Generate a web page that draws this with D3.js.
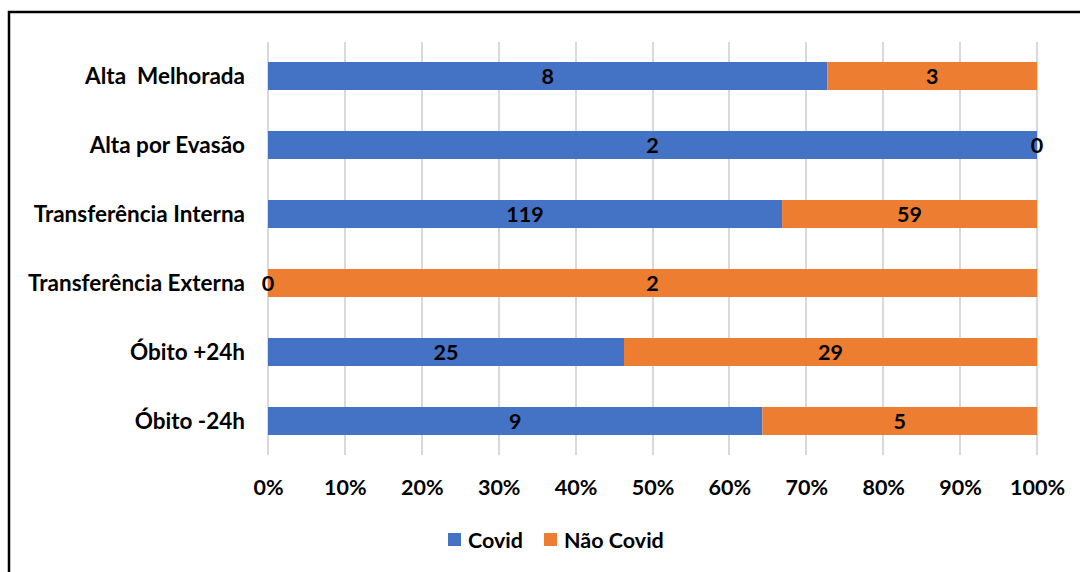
<!DOCTYPE html>
<meta charset="utf-8">
<style>

body {
  margin: 0;
  background: #fff;
}

svg text {
  font-family: Lato, "Noto Sans", sans-serif;
  font-weight: bold;
  fill: #000;
  white-space: pre;
}

.grid line {
  stroke: #d9d9d9;
  stroke-width: 2;
  shape-rendering: crispEdges;
}

</style>
<body>
<script src="https://d3js.org/d3.v7.min.js"></script>
<script>

var categories = ["Alta  Melhorada", "Alta por Evasão", "Transferência Interna",
                  "Transferência Externa", "Óbito +24h", "Óbito -24h"];
var covid    = [8, 2, 119, 0, 25, 9];
var naoCovid = [3, 0, 59, 2, 29, 5];
var seriesNames = ["Covid", "Não Covid"];
var tickValues = [0, 0.1, 0.2, 0.3, 0.4, 0.5, 0.6, 0.7, 0.8, 0.9, 1];

var colors = ["#4472C4", "#ED7D31"];

var width = 1080, height = 572;

var svg = d3.select("body").append("svg")
    .attr("width", width)
    .attr("height", height);

// frame round the chart (right and bottom edges fall off the picture)
svg.append("rect")
    .attr("x", 9)
    .attr("y", 12)
    .attr("width", 1200)
    .attr("height", 700)
    .attr("fill", "none")
    .attr("stroke", "#000")
    .attr("stroke-width", 2.5);

var x = d3.scaleLinear().domain([0, 1]).range([268, 1037]);

var y = d3.scaleBand()
    .domain(categories)
    .range([41.5, 455.5])
    .paddingInner(0.594)
    .paddingOuter(0.297);

// gridlines
svg.append("g")
    .attr("class", "grid")
  .selectAll("line")
    .data(tickValues)
  .enter().append("line")
    .attr("x1", function(d) { return Math.round(x(d)); })
    .attr("x2", function(d) { return Math.round(x(d)); })
    .attr("y1", 42)
    .attr("y2", 455);

var rows = categories.map(function(c, i) {
  var total = covid[i] + naoCovid[i];
  return {cat: c, vals: [covid[i], naoCovid[i]], total: total};
});

var segs = [];
rows.forEach(function(r) {
  var acc = 0;
  r.vals.forEach(function(v, j) {
    var p0 = acc / r.total, p1 = (acc + v) / r.total;
    segs.push({cat: r.cat, v: v, s: j, p0: p0, p1: p1});
    acc += v;
  });
});

svg.append("g").selectAll("rect")
    .data(segs)
  .enter().append("rect")
    .attr("x", function(d) { return x(d.p0); })
    .attr("width", function(d) { return x(d.p1) - x(d.p0); })
    .attr("y", function(d) { return y(d.cat); })
    .attr("height", y.bandwidth())
    .attr("fill", function(d) { return colors[d.s]; });

// data labels
svg.append("g").selectAll("text")
    .data(segs)
  .enter().append("text")
    .attr("x", function(d) { return (x(d.p0) + x(d.p1)) / 2; })
    .attr("y", function(d) { return y(d.cat) + y.bandwidth() / 2; })
    .attr("dy", "0.36em")
    .attr("text-anchor", "middle")
    .style("font-size", "21.5px")
    .text(function(d) { return d.v; });

// category axis
var yAxis = svg.append("g")
    .attr("transform", "translate(268,0)")
    .call(d3.axisLeft(y).tickSize(0).tickPadding(23));
yAxis.select(".domain").remove();
yAxis.selectAll("text")
    .style("font-size", "22.5px")
    .attr("dy", "0.36em");

// percent axis
var xAxis = svg.append("g")
    .attr("transform", "translate(0,455)")
    .call(d3.axisBottom(x).tickValues(tickValues).tickFormat(d3.format(".0%"))
      .tickSize(0).tickPadding(32));
xAxis.select(".domain").remove();
xAxis.selectAll("text")
    .style("font-size", "21.5px")
    .attr("dy", 0)
    .attr("y", 39.5);

// legend
var legendX = [448, 544];
var legend = svg.selectAll(".legend")
    .data(seriesNames)
  .enter().append("g")
    .attr("class", "legend")
    .attr("transform", function(d, i) { return "translate(" + legendX[i] + ",533)"; });

legend.append("rect")
    .attr("width", 13)
    .attr("height", 13)
    .attr("fill", function(d, i) { return colors[i]; });

legend.append("text")
    .attr("x", 20)
    .attr("y", 14.5)
    .style("font-size", "21.5px")
    .text(function(d) { return d; });

</script>
</body>
